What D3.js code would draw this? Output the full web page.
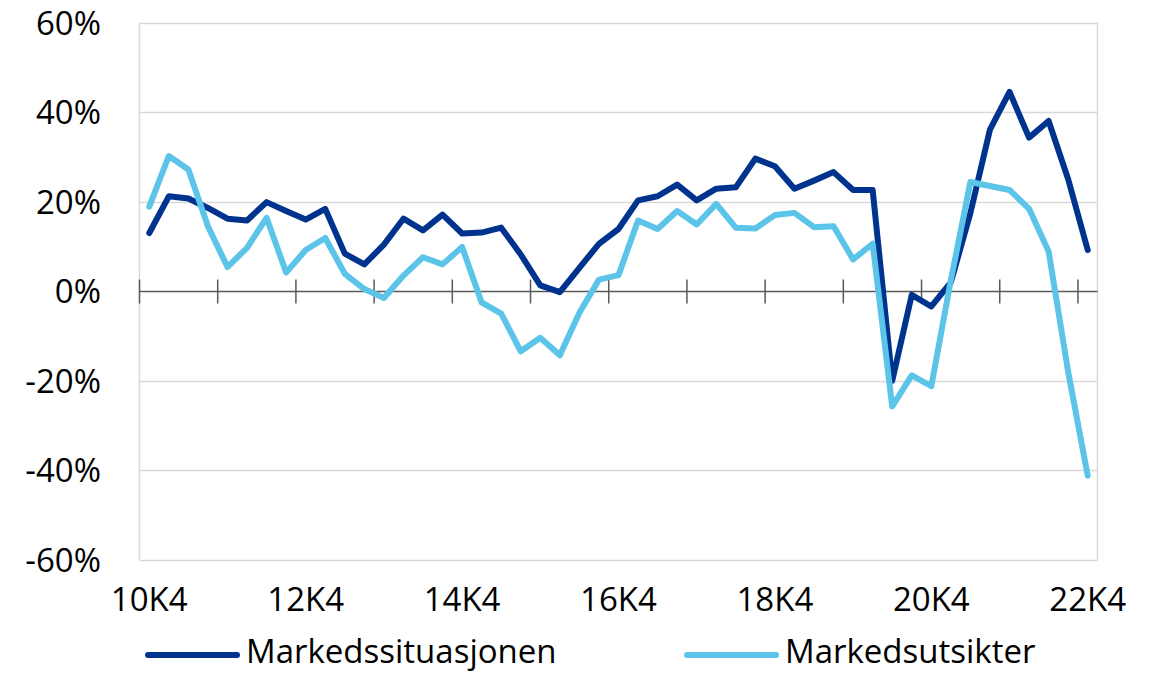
<!DOCTYPE html>
<html>
<head>
<meta charset="utf-8">
<script src="https://cdn.jsdelivr.net/npm/d3@7"></script>
<style>
  html, body { margin: 0; padding: 0; background: #fff; }
  svg { display: block; font-family: "Open Sans", "Noto Sans", sans-serif; }
</style>
</head>
<body>
<svg width="1156" height="674"></svg>
<script>
// quarters 10K4 .. 22K4
const quarters = [
  '10K4',
  '11K1','11K2','11K3','11K4',
  '12K1','12K2','12K3','12K4',
  '13K1','13K2','13K3','13K4',
  '14K1','14K2','14K3','14K4',
  '15K1','15K2','15K3','15K4',
  '16K1','16K2','16K3','16K4',
  '17K1','17K2','17K3','17K4',
  '18K1','18K2','18K3','18K4',
  '19K1','19K2','19K3','19K4',
  '20K1','20K2','20K3','20K4',
  '21K1','21K2','21K3','21K4',
  '22K1','22K2','22K3','22K4'
];
const xLabels = ['10K4','12K4','14K4','16K4','18K4','20K4','22K4'];
const yTicks = [-60, -40, -20, 0, 20, 40, 60];

const markedssituasjonen = [
  13.0, 21.2, 20.7, 18.6, 16.2, 15.8, 19.9, 17.9, 16.0, 18.4,
  8.4, 6.0, 10.4, 16.2, 13.6, 17.1, 12.9, 13.1, 14.2, 8.2,
  1.3, -0.2, 5.2, 10.6, 13.9, 20.3, 21.2, 23.8, 20.3, 22.9,
  23.2, 29.6, 27.9, 22.9, 24.7, 26.6, 22.6, 22.6, -20.0, -0.8,
  -3.4, 2.0, 17.5, 36.1, 44.5, 34.3, 38.0, 25.0, 9.2
];
const markedsutsikter = [
  18.9, 30.2, 27.2, 14.5, 5.4, 9.7, 16.4, 4.2, 9.2, 11.9,
  3.9, 0.5, -1.5, 3.5, 7.6, 6.0, 9.9, -2.5, -5.0, -13.4,
  -10.4, -14.3, -4.8, 2.6, 3.6, 15.8, 13.9, 17.9, 14.9, 19.5,
  14.2, 14.0, 17.0, 17.5, 14.3, 14.5, 7.1, 10.6, -25.7, -18.8,
  -21.2, 2.5, 24.4, 23.5, 22.6, 18.4, 8.9, -18.0, -41.2
];

const series = [
  { name: 'Markedssituasjonen', values: markedssituasjonen, color: '#00338D' },
  { name: 'Markedsutsikter', values: markedsutsikter, color: '#5BC4E8' }
];

const svg = d3.select('svg');
const plotL = 139.5, plotR = 1097.5, plotT = 22.5, plotB = 560;

const x = d3.scaleBand().domain(quarters).range([plotL, plotR]).padding(0);
const y = d3.scaleLinear().domain([-60, 60]).range([plotB, plotT]);
const cx = q => x(q) + x.bandwidth() / 2;

// frame + gridlines
svg.append('g').selectAll('line')
  .data(yTicks.filter(d => d !== 0))
  .join('line')
  .attr('x1', plotL).attr('x2', plotR)
  .attr('y1', d => Math.round(y(d)) + 0.5).attr('y2', d => Math.round(y(d)) + 0.5)
  .attr('stroke', '#d9d9d9').attr('stroke-width', 1.5);
svg.append('line')
  .attr('x1', plotL).attr('x2', plotL).attr('y1', plotT).attr('y2', plotB)
  .attr('stroke', '#d9d9d9').attr('stroke-width', 1.5);
svg.append('line')
  .attr('x1', plotR).attr('x2', plotR).attr('y1', plotT).attr('y2', plotB)
  .attr('stroke', '#d9d9d9').attr('stroke-width', 1.5);

// y labels
svg.append('g').selectAll('text')
  .data(yTicks)
  .join('text')
  .attr('x', 101)
  .attr('y', d => y(d) + 12)
  .attr('text-anchor', 'end')
  .attr('font-size', 33)
  .attr('fill', '#000')
  .text(d => d + '%');

// zero axis with crossing ticks every 4 quarters
const zeroY = Math.round(y(0)) + 0.5;
svg.append('line')
  .attr('x1', plotL).attr('x2', plotR).attr('y1', zeroY).attr('y2', zeroY)
  .attr('stroke', '#595959').attr('stroke-width', 1.5);
svg.append('g').selectAll('line')
  .data(quarters.filter((q, i) => i % 4 === 0))
  .join('line')
  .attr('x1', d => x(d)).attr('x2', d => x(d))
  .attr('y1', zeroY - 12).attr('y2', zeroY + 12)
  .attr('stroke', '#595959').attr('stroke-width', 1.5);

// x labels
svg.append('g').selectAll('text')
  .data(xLabels)
  .join('text')
  .attr('x', d => cx(d))
  .attr('y', 611)
  .attr('text-anchor', 'middle')
  .attr('font-size', 33)
  .attr('fill', '#000')
  .text(d => d);

// lines
const line = d3.line()
  .x((d, i) => cx(quarters[i]))
  .y(d => y(d));
svg.append('g').selectAll('path')
  .data(series)
  .join('path')
  .attr('d', d => line(d.values))
  .attr('fill', 'none')
  .attr('stroke', d => d.color)
  .attr('stroke-width', 6)
  .attr('stroke-linejoin', 'round')
  .attr('stroke-linecap', 'round');

// legend
const legendX = [148, 687];
const leg = svg.append('g').selectAll('g')
  .data(series)
  .join('g')
  .attr('transform', (d, i) => `translate(${legendX[i]},655)`);
leg.append('line')
  .attr('x1', 0).attr('x2', 89).attr('y1', 0).attr('y2', 0)
  .attr('stroke', d => d.color).attr('stroke-width', 6)
  .attr('stroke-linecap', 'round');
leg.append('text')
  .attr('x', 98).attr('y', 8)
  .attr('font-size', 33)
  .attr('fill', '#000')
  .text(d => d.name);
</script>
</body>
</html>
